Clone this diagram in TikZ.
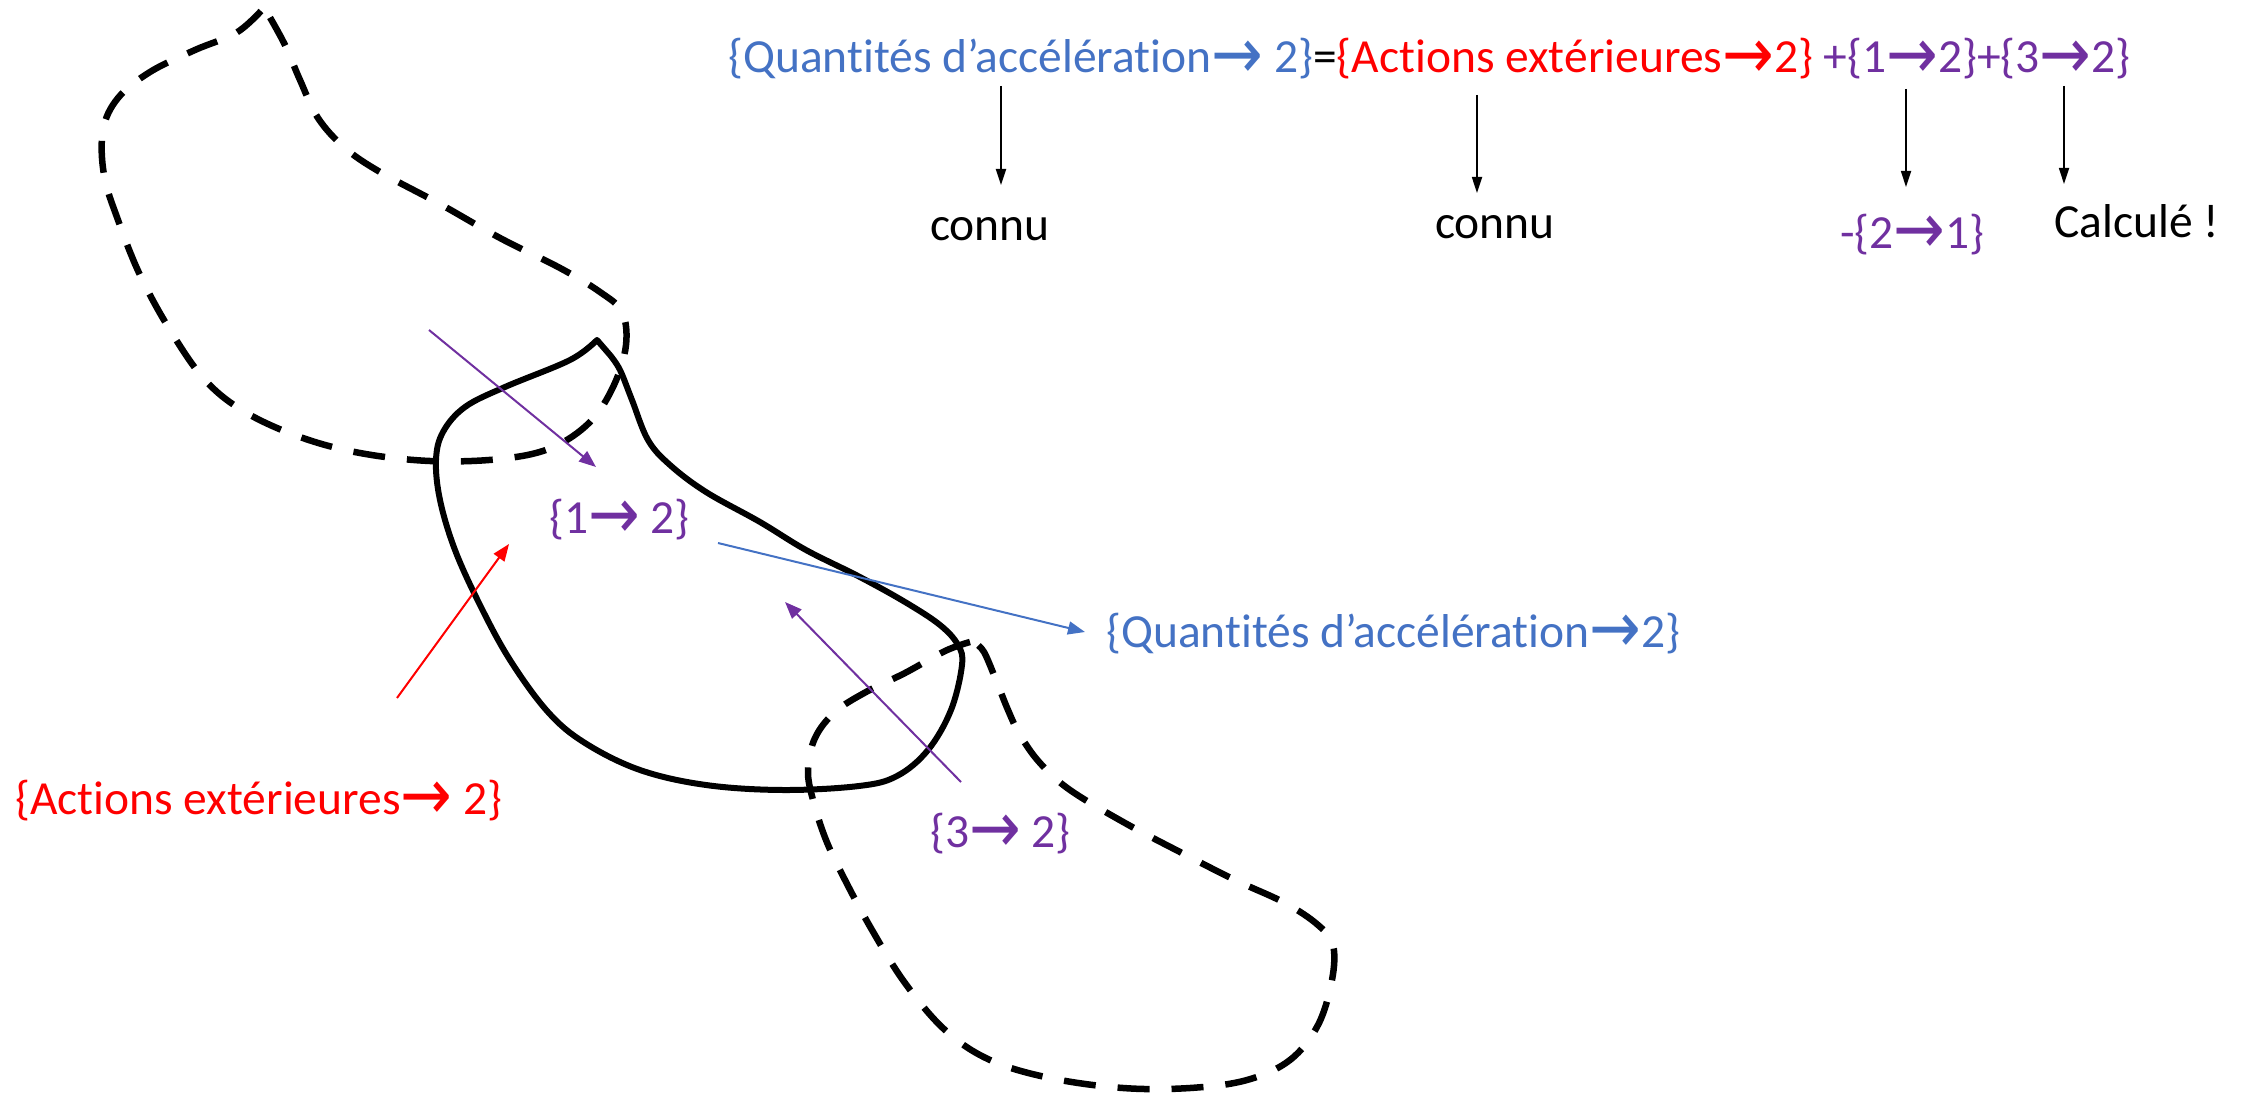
\documentclass[tikz,border=0pt]{standalone}
\usepackage{fontspec}
\usepackage{graphicx}
\setmainfont{Carlito}[Ligatures={NoCommon}]
\newfontfamily\arrowfont{DejaVu Sans}
\usetikzlibrary{arrows.meta}
\definecolor{cblue}{HTML}{4472C4}
\definecolor{cred}{HTML}{FF0000}
\definecolor{cpurple}{HTML}{7030A0}
\newcommand\myarr{\raisebox{-0.12em}{\scalebox{1.3}[1.5]{\arrowfont →}}}
\begin{document}
\begin{tikzpicture}[x=1pt,y=-1pt,
  lbl/.style={anchor=base west,inner sep=0pt,font=\fontsize{47.5}{56}\selectfont},
  bodyline/.style={line width=6pt,line join=round},
  dashline/.style={line width=6.5pt,dash pattern=on 32pt off 22pt,line join=round},
  thinarrow/.style={line width=2pt,-{Triangle[length=17pt,width=13pt]}},
  downarrow/.style={line width=1.8pt,black,-{Triangle[length=16pt,width=10pt]}}]
\useasboundingbox (0,0) rectangle (2247,1097);

% upper dashed solid (1)
\draw[dashline] plot[smooth,tension=0.6] coordinates{(261,11) (236,33) (195,50) (150,72) (118,98) (103,130) (104,175) (118,220) (140,275) (170,330) (205,380) (245,412) (300,437) (360,453) (430,461) (500,459) (551,448) (590,422) (614,385) (626,345) (622,312) (600,292) (560,268) (500,238) (440,204) (380,172) (345,148) (318,118) (300,80) (285,45) (268,14)} -- cycle;

% lower dashed solid (3)
\draw[dashline] plot[smooth,tension=0.6] coordinates{(970,642) (945,651) (905,673) (866,692) (835,712) (815,738) (808,770) (813,800) (826,840) (845,880) (872,930) (905,983) (945,1030) (990,1060) (1050,1078) (1123,1088) (1190,1088) (1247,1080) (1290,1060) (1318,1025) (1332,980) (1333,945) (1318,925) (1285,903) (1235,880) (1180,852) (1125,823) (1070,790) (1040,763) (1020,735) (1008,710) (996,680) (984,652) (975,643)} -- cycle;

% solid body (2)
\draw[bodyline] plot[smooth,tension=0.6] coordinates{(597,340) (570,360) (505,387) (465,407) (443,432) (436,460) (440,500) (455,550) (480,605) (510,660) (548,712) (585,743) (640,770) (706,785) (783,790) (859,786) (897,776) (928,750) (951,710) (962,665) (958,645) (940,625) (905,602) (858,576) (806,550) (760,522) (706,492) (670,465) (648,440) (632,400) (620,370) (610,355)} -- cycle;

% equation
\node[lbl] (eq) at (728,73) {\textcolor{cblue}{\{Quantités d’accélération\myarr\ 2\}}=\textcolor{cred}{\{Actions extérieures\myarr2\}} \textcolor{cpurple}{+\{1\myarr2\}+\{3\myarr2\}}};

\node[lbl] (c1) at (930,240) {connu};
\node[lbl] (c2) at (1435,238) {connu};
\node[lbl,text=cpurple] (c3) at (1840,248) {-\{2\myarr1\}};
\node[lbl] (c4) at (2054,237) {Calculé !};

\coordinate (a1s) at (1001,86);  \coordinate (a1e) at (1001,185);
\coordinate (a2s) at (1477,95);  \coordinate (a2e) at (1477,193);
\coordinate (a3s) at (1906,89);  \coordinate (a3e) at (1906,187);
\coordinate (a4s) at (2064,86);  \coordinate (a4e) at (2064,184);
\draw[downarrow] (a1s) -- (a1e);
\draw[downarrow] (a2s) -- (a2e);
\draw[downarrow] (a3s) -- (a3e);
\draw[downarrow] (a4s) -- (a4e);

% labels in the drawing
\node[lbl,text=cpurple] (l12) at (549,533) {\{1\myarr\ 2\}};
\node[lbl,text=cpurple] (l32) at (930,847) {\{3\myarr\ 2\}};
\node[lbl,text=cblue] (lq) at (1106,647) {\{Quantités d’accélération\myarr2\}};
\node[lbl,text=cred] (la) at (15,814) {\{Actions extérieures\myarr\ 2\}};

\coordinate (p1s) at (429,330); \coordinate (p1e) at (596,467);
\coordinate (p3s) at (961,782); \coordinate (p3e) at (785,602);
\coordinate (rs) at (397,698);  \coordinate (re) at (509,544);
\coordinate (bs) at (718,543);  \coordinate (be) at (1085,632);
\draw[thinarrow,cpurple] (p1s) -- (p1e);
\draw[thinarrow,cpurple] (p3s) -- (p3e);
\draw[thinarrow,cred] (rs) -- (re);
\draw[thinarrow,cblue] (bs) -- (be);
\end{tikzpicture}
\end{document}
